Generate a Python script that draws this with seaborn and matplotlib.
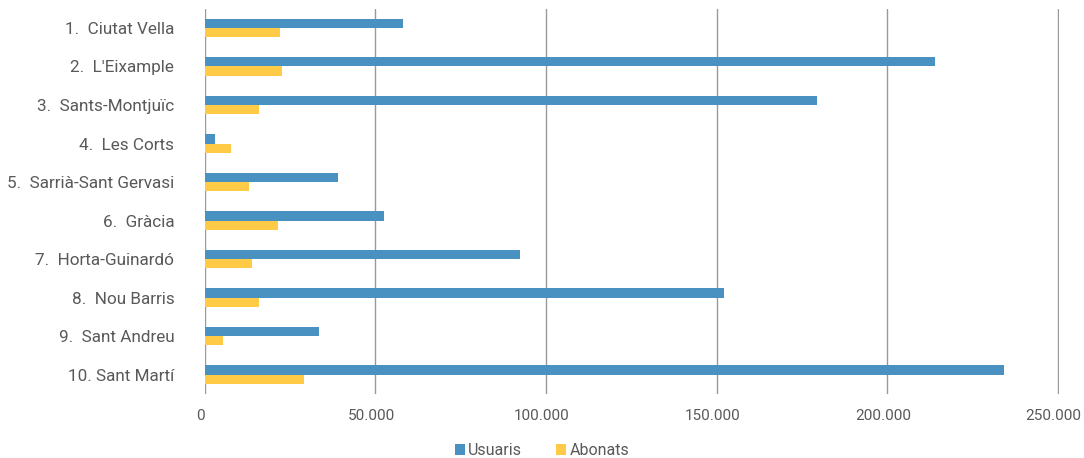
import pandas as pd
import matplotlib.pyplot as plt
import matplotlib.transforms as mtransforms
import seaborn as sns

# Districtes de Barcelona
districtes = ["1.  Ciutat Vella", "2.  L'Eixample", "3.  Sants-Montjuïc", "4.  Les Corts",
              "5.  Sarrià-Sant Gervasi", "6.  Gràcia", "7.  Horta-Guinardó", "8.  Nou Barris",
              "9.  Sant Andreu", "10. Sant Martí"]
usuaris = [58200, 214000, 179300, 2900, 39100, 52600, 92500, 152200, 33600, 234200]
abonats = [21900, 22500, 15800, 7800, 12800, 21300, 13900, 15800, 5400, 29200]
series = ["Usuaris", "Abonats"]
xticks = [0, 50000, 100000, 150000, 200000, 250000]

df = pd.DataFrame({
    "districte": districtes * 2,
    "valor": usuaris + abonats,
    "serie": [series[0]] * len(districtes) + [series[1]] * len(districtes),
})

sns.set_style("white")
plt.rcParams['font.family'] = ['Roboto', 'DejaVu Sans']
text_color = "#595959"

fig = plt.figure(figsize=(10.84, 4.58), dpi=100)
ax = fig.add_axes([0.189, 0.14, 0.788, 0.841])

sns.barplot(data=df, y="districte", x="valor", hue="serie", orient="h",
            palette=["#4891C1", "#FFCA45"], width=0.48, saturation=1,
            linewidth=0, order=districtes, hue_order=series, ax=ax, legend=True)

ax.set_xlim(0, 250400)
ax.set_ylim(9.5, -0.5)
ax.set_xticks(xticks)
ax.set_xticklabels([f"{v:,}".replace(",", ".") for v in xticks])
ax.set_xlabel("")
ax.set_ylabel("")
ax.grid(axis="x", color="#999999", linewidth=1)
ax.set_axisbelow(True)
for s in ax.spines.values():
    s.set_visible(False)
ax.tick_params(axis="x", length=0, pad=11, labelsize=11, labelcolor=text_color)
ax.tick_params(axis="y", length=0, pad=22, labelsize=12.3, labelcolor=text_color)

# the x labels sit a little left of their gridlines in the original
shift = mtransforms.ScaledTranslation(-4 / 100, 0, fig.dpi_scale_trans)
for lbl in ax.get_xticklabels():
    lbl.set_transform(lbl.get_transform() + shift)

handles, labels = ax.get_legend_handles_labels()
ax.get_legend().remove()
fig.legend(handles, labels, loc="center", bbox_to_anchor=(0.5, 0.016), ncol=2,
           frameon=False, fontsize=11.5, handlelength=0.65, handleheight=0.65,
           handletextpad=0.2, columnspacing=2.1, labelcolor=text_color)

fig.savefig("out.png", dpi=100)
